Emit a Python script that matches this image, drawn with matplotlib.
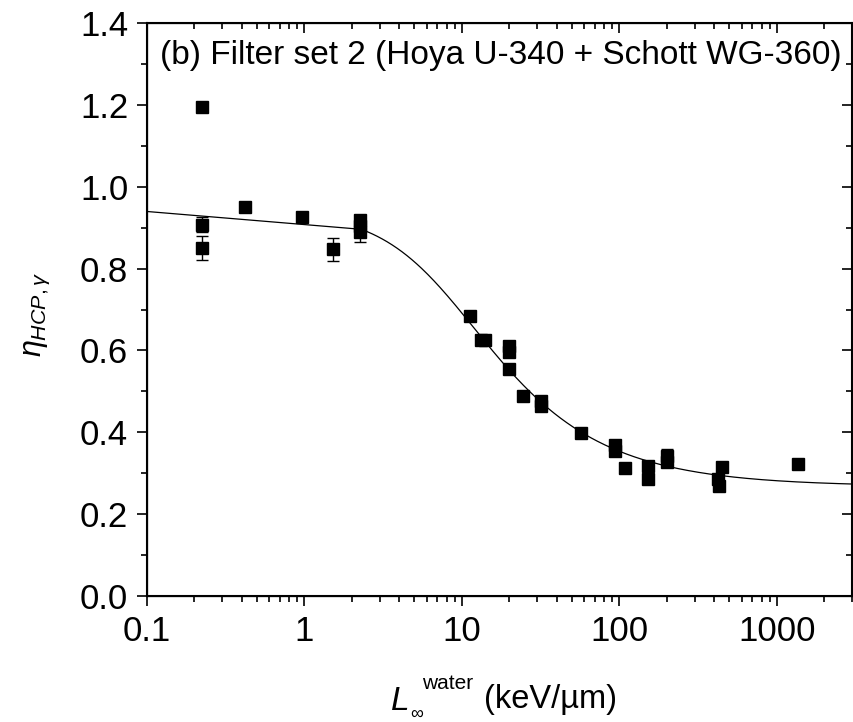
import numpy as np
import matplotlib
matplotlib.use("Agg")
import matplotlib.pyplot as plt
from matplotlib.ticker import MultipleLocator, LogLocator, NullFormatter

plt.rcParams['font.family'] = ['Liberation Sans', 'DejaVu Sans']
plt.rcParams['mathtext.fontset'] = 'custom'
plt.rcParams['mathtext.rm'] = 'Liberation Sans'
plt.rcParams['mathtext.it'] = 'Liberation Sans:italic'

# measured points (LET in keV/um, efficiency, error)
let_vals = [0.224, 0.224, 0.224, 0.417, 0.967, 1.51, 2.26, 2.26, 2.26,
            11.2, 13.3, 14.1, 19.9, 19.9, 19.9, 24.6, 31.9, 31.9, 57.2,
            93.8, 93.8, 109, 151, 151, 202, 202, 423, 430, 449, 1371]
eta_vals = [1.195, 0.907, 0.850, 0.950, 0.927, 0.847, 0.920, 0.905, 0.890,
            0.684, 0.625, 0.625, 0.612, 0.596, 0.555, 0.489, 0.476, 0.464, 0.398,
            0.368, 0.355, 0.312, 0.317, 0.287, 0.343, 0.327, 0.286, 0.269, 0.316, 0.323]
eta_err = [0.008, 0.018, 0.030, 0.008, 0.008, 0.028, 0.010, 0.010, 0.025,
           0.008, 0.008, 0.008, 0.010, 0.010, 0.008, 0.012, 0.012, 0.012, 0.008,
           0.010, 0.012, 0.008, 0.008, 0.008, 0.016, 0.010, 0.008, 0.008, 0.008, 0.008]

# fit parameters (asymmetric logistic)
A1 = 0.94
A2 = 0.268
x0 = 7.7
p = 1.6
s = 0.5

fig = plt.figure(figsize=(8.54, 7.22), dpi=100)
ax = fig.add_axes([0.172, 0.1745, 0.8257, 0.7935])

# fit curve: first step is coarse (as in the original fit output)
xfit = np.concatenate([[0.1], np.logspace(np.log10(2.3), np.log10(3000), 400)])
yfit = A2 + (A1 - A2) / (1 + (xfit / x0) ** p) ** s
ax.plot(xfit, yfit, color='black', lw=0.9, zorder=2)

ax.errorbar(let_vals, eta_vals, yerr=eta_err, fmt='s', color='black',
            ms=8, ecolor='black', elinewidth=1.0, capsize=4, capthick=1.0, zorder=3)

ax.set_xscale('log')
ax.set_xlim(0.1, 3000)
ax.set_ylim(0, 1.4)
ax.set_xticks([0.1, 1, 10, 100, 1000])
ax.set_xticklabels(['0.1', '1', '10', '100', '1000'])
ax.xaxis.set_minor_locator(LogLocator(base=10, subs=np.arange(2, 10)))
ax.xaxis.set_minor_formatter(NullFormatter())
ax.yaxis.set_major_locator(MultipleLocator(0.2))
ax.yaxis.set_minor_locator(MultipleLocator(0.1))
ax.yaxis.set_major_formatter(plt.FuncFormatter(lambda v, _: f"{v:.1f}"))

ax.tick_params(which='major', direction='out', length=7.5, width=1.2, labelsize=25, pad=6)
ax.tick_params(which='minor', direction='out', length=4, width=1.2)
for sp in ax.spines.values():
    sp.set_linewidth(1.5)

# mirrored ticks pointing inward on top and right
axt = ax.twiny()
axt.set_xscale('log')
axt.set_xlim(ax.get_xlim())
axt.set_xticks([0.1, 1, 10, 100, 1000])
axt.xaxis.set_minor_locator(LogLocator(base=10, subs=np.arange(2, 10)))
axt.xaxis.set_minor_formatter(NullFormatter())
axt.tick_params(which='major', direction='in', length=7.5, width=1.2, labeltop=False)
axt.tick_params(which='minor', direction='in', length=4, width=1.2)

axr = ax.twinx()
axr.set_ylim(ax.get_ylim())
axr.yaxis.set_major_locator(MultipleLocator(0.2))
axr.yaxis.set_minor_locator(MultipleLocator(0.1))
axr.tick_params(which='major', direction='in', length=7.5, width=1.2, labelright=False)
axr.tick_params(which='minor', direction='in', length=4, width=1.2)

ax.text(0.018, 0.944, '(b) Filter set 2 (Hoya U-340 + Schott WG-360)',
        transform=ax.transAxes, fontsize=24, va='center', ha='left')

# x label built from pieces so the superscript sits as high as in the original
fig.text(391 / 854, 1 - 710 / 722, 'L', fontsize=24, style='italic', ha='left', va='baseline')
fig.text(410 / 854, 1 - 719 / 722, '∞', fontsize=13, ha='left', va='baseline')
fig.text(422 / 854, 1 - 689 / 722, 'water', fontsize=15, ha='left', va='baseline')
fig.text(484 / 854, 1 - 708 / 722, '(keV/µm)', fontsize=23.5, ha='left', va='baseline')

ax.set_ylabel(r'$\eta_{HCP,\gamma}$', fontsize=22)
ax.yaxis.set_label_coords(-0.135, 0.492)

fig.savefig('out.png', dpi=100)
